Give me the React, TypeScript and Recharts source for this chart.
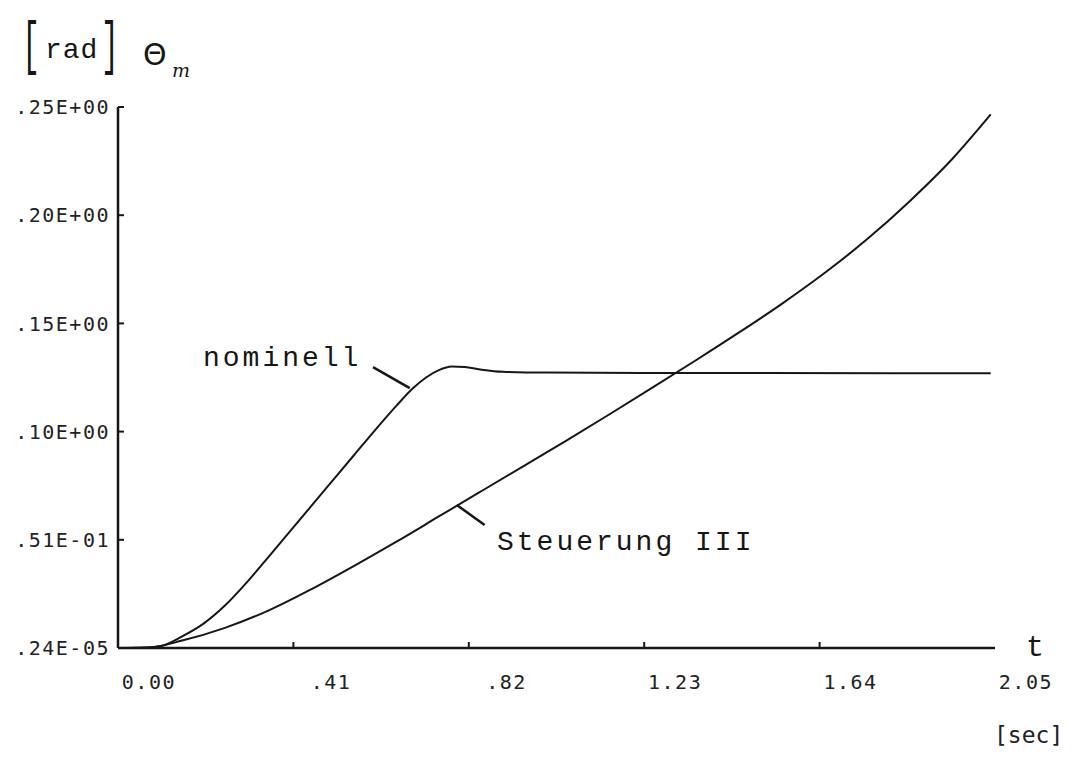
import React from "react";
import { LineChart, Line, XAxis, YAxis, ReferenceLine } from "recharts";

// time axis [sec]
const xTicks = [0, 0.41, 0.82, 1.23, 1.64, 2.05];
const xTickLabels = ["0.00", ".41", ".82", "1.23", "1.64", "2.05"];
// theta_m [rad]
const yTicks = [0, 0.051, 0.102, 0.153, 0.204, 0.255];
const yTickLabels = [".24E-05", ".51E-01", ".10E+00", ".15E+00", ".20E+00", ".25E+00"];

// nominell
const nomT = [0, 0.06, 0.1, 0.15, 0.2, 0.25, 0.3, 0.35, 0.4, 0.45, 0.5, 0.55, 0.6, 0.65, 0.69, 0.72, 0.75, 0.78, 0.81, 0.85, 0.9, 1.0, 1.4, 2.04];
const nomV = [0, 0.0001, 0.0009, 0.0055, 0.0115, 0.02, 0.0307, 0.0425, 0.0545, 0.0665, 0.0785, 0.0905, 0.1025, 0.114, 0.1225, 0.1275, 0.131, 0.1327, 0.1325, 0.1312, 0.1302, 0.1298, 0.1296, 0.1295];

// Steuerung III
const steT = [0, 0.08, 0.15, 0.25, 0.35, 0.45, 0.55, 0.65, 0.75, 0.85, 0.95, 1.05, 1.15, 1.25, 1.35, 1.45, 1.55, 1.65, 1.75, 1.85, 1.95, 2.04];
const steV = [0, 0.0004, 0.0035, 0.0095, 0.0175, 0.0275, 0.0385, 0.05, 0.062, 0.074, 0.086, 0.098, 0.1103, 0.1228, 0.1355, 0.1485, 0.162, 0.1765, 0.1925, 0.2105, 0.2305, 0.2515];

const nomData = nomT.map((t, i) => ({ t, v: nomV[i] }));
const steData = steT.map((t, i) => ({ t, v: steV[i] }));

const INK = "#161616";
const TICK_FONT = "'DejaVu Sans Mono', monospace";
const TYPE_FONT = "'Liberation Mono', 'Courier New', monospace";

const YTick = (props: any) => {
  const { x, y, payload } = props;
  const idx = yTicks.findIndex((v) => Math.abs(v - payload.value) < 1e-9);
  return (
    <g>
      <line x1={x} x2={x + 6} y1={y} y2={y} stroke={INK} strokeWidth={2} />
      <text x={x - 8} y={y} dy="0.36em" textAnchor="end" fontFamily={TICK_FONT} fontSize={20} letterSpacing={1.5} fill="#222">
        {yTickLabels[idx]}
      </text>
    </g>
  );
};

const XTick = (props: any) => {
  const { x, y, payload } = props;
  const idx = xTicks.findIndex((v) => Math.abs(v - payload.value) < 1e-9);
  return (
    <g>
      {idx > 0 && idx < xTicks.length - 1 ? (
        <line x1={x} x2={x} y1={y} y2={y - 6} stroke={INK} strokeWidth={2} />
      ) : null}
      <text x={x + 58} y={y + 41} textAnchor="end" fontFamily={TICK_FONT} fontSize={20} letterSpacing={1.5} fill="#222">
        {xTickLabels[idx]}
      </text>
    </g>
  );
};

export default function App() {
  return (
    <div style={{ position: "absolute", left: 0, top: 0, width: 1076, height: 764, background: "#fff" }}>
      <LineChart width={1076} height={764} margin={{ top: 107, right: 81, bottom: 76, left: 0 }}>
        <XAxis
          type="number"
          dataKey="t"
          domain={[0, 2.05]}
          ticks={xTicks}
          tick={<XTick />}
          tickLine={false}
          tickSize={0}
          tickMargin={0}
          height={40}
          axisLine={{ stroke: INK, strokeWidth: 2.5 }}
          allowDuplicatedCategory={false}
        />
        <YAxis
          type="number"
          dataKey="v"
          domain={[0, 0.255]}
          ticks={yTicks}
          tick={<YTick />}
          tickLine={false}
          tickSize={0}
          tickMargin={0}
          width={118}
          axisLine={{ stroke: INK, strokeWidth: 2.5 }}
        />
        <Line data={nomData} dataKey="v" type="monotone" stroke={INK} strokeWidth={2} dot={false} isAnimationActive={false} />
        <Line data={steData} dataKey="v" type="monotone" stroke={INK} strokeWidth={2} dot={false} isAnimationActive={false} />
        <ReferenceLine segment={[{ x: 0.596, y: 0.1324 }, { x: 0.682, y: 0.1225 }]} stroke={INK} strokeWidth={2.5} />
        <ReferenceLine segment={[{ x: 0.792, y: 0.0674 }, { x: 0.857, y: 0.058 }]} stroke={INK} strokeWidth={2.5} />
      </LineChart>
      <svg width={1076} height={764} style={{ position: "absolute", left: 0, top: 0, pointerEvents: "none" }}>
        <text transform="translate(22,63) scale(1,2)" fontFamily={TYPE_FONT} fontSize={30} fill={INK}>[</text>
        <text x={45} y={58} fontFamily={TYPE_FONT} fontSize={28} letterSpacing={1} fill={INK}>rad</text>
        <text transform="translate(101,63) scale(1,2)" fontFamily={TYPE_FONT} fontSize={30} fill={INK}>]</text>
        <text x={143} y={65} fontFamily="'DejaVu Sans', sans-serif" fontSize={30} fill={INK}>Θ</text>
        <text x={172} y={77} fontFamily="'DejaVu Serif', serif" fontStyle="italic" fontSize={19} fill={INK}>m</text>
        <text x={203} y={366} fontFamily={TYPE_FONT} fontSize={28} letterSpacing={3} fill={INK}>nominell</text>
        <text x={497} y={550} fontFamily={TYPE_FONT} fontSize={28} letterSpacing={3} fill={INK}>Steuerung III</text>
        <text x={1026} y={656} fontFamily={TYPE_FONT} fontSize={30} fill={INK}>t</text>
        <text x={994} y={743} fontFamily={TICK_FONT} fontSize={23} fill="#222">[sec]</text>
      </svg>
    </div>
  );
}
